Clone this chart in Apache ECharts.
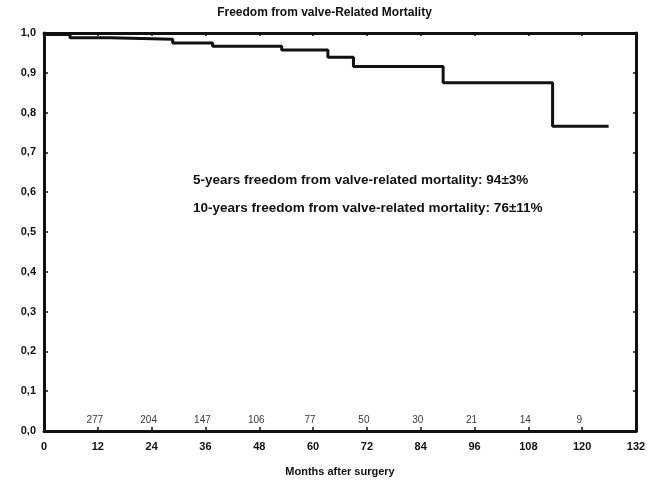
<!DOCTYPE html>
<html><head><meta charset="utf-8">
<script src="https://cdn.jsdelivr.net/npm/echarts@6/dist/echarts.min.js"></script>
<style>html,body{margin:0;padding:0;background:#fff}#c{width:649px;height:482px}</style>
</head><body><div id="c"></div>
<script>
const months   = [0, 5.8, 14.7, 28.7, 37.6, 53, 63.3, 69, 89, 113.4, 125.9];
const survival = [0.996, 0.988, 0.984, 0.975, 0.967, 0.957, 0.939, 0.916, 0.875, 0.766, 0.766];
const riskMonths = [12, 24, 36, 48, 60, 72, 84, 96, 108, 120];
const atRisk     = [277, 204, 147, 106, 77, 50, 30, 21, 14, 9];
const titleText = 'Freedom from valve-Related Mortality';
const note1 = '5-years freedom from valve-related mortality: 94±3%';
const note2 = '10-years freedom from valve-related mortality: 76±11%';

const fmt = v => v.toFixed(1).replace('.', ',');
const chart = echarts.init(document.getElementById('c'));
const F = 'Liberation Sans, Arial, sans-serif';
chart.setOption({
  animation: false,
  title: { text: titleText, left: 'center', top: 2,
    textStyle: { fontFamily: F, fontSize: 12, fontWeight: 'bold', color: '#111' } },
  grid: { left: 44, right: 13, top: 33, bottom: 50 },
  xAxis: [{
    type: 'value', min: 0, max: 132, interval: 12,
    name: 'Months after surgery', nameLocation: 'middle', nameGap: 35,
    nameTextStyle: { fontFamily: F, fontSize: 11, fontWeight: 'bold', color: '#111' },
    axisLine: { onZero: false, lineStyle: { color: '#111', width: 3 } },
    axisTick: { inside: true, length: 4, lineStyle: { color: '#111', width: 1.5 } },
    axisLabel: { fontFamily: F, fontSize: 11, fontWeight: 'bold', color: '#111', margin: 10 },
    splitLine: { show: false }
  }, {
    type: 'value', min: 0, max: 132, interval: 12, position: 'top',
    axisLine: { onZero: false, lineStyle: { color: '#111', width: 3 } },
    axisTick: { inside: true, length: 3, lineStyle: { color: '#111', width: 1.5 } },
    axisLabel: { show: false }, splitLine: { show: false }
  }],
  yAxis: [{
    type: 'value', min: 0, max: 1, interval: 0.1,
    axisLine: { show: true, onZero: false, lineStyle: { color: '#111', width: 3 } },
    axisTick: { show: true, inside: true, length: 4, lineStyle: { color: '#111', width: 1.5 } },
    axisLabel: { fontFamily: F, fontSize: 11, fontWeight: 'bold', color: '#111', margin: 8, formatter: fmt },
    splitLine: { show: false }
  }, {
    type: 'value', min: 0, max: 1, interval: 0.1, position: 'right',
    axisLine: { show: true, onZero: false, lineStyle: { color: '#111', width: 3 } },
    axisTick: { show: true, inside: true, length: 3, lineStyle: { color: '#111', width: 1.5 } },
    axisLabel: { show: false }, splitLine: { show: false }
  }],
  series: [{
    type: 'line', step: 'end', symbol: 'none',
    data: months.map((m, i) => [m, survival[i]]),
    lineStyle: { color: '#111', width: 3 }
  }, {
    type: 'scatter', symbolSize: 0,
    data: riskMonths.map((m, i) => [m, 0.028, atRisk[i]]),
    label: { show: true, position: 'inside', offset: [-3, 0],
      formatter: p => p.data[2],
      fontFamily: F, fontSize: 10, color: '#000' }
  }],
  graphic: [
    { type: 'text', left: 193, top: 173,
      style: { text: note1, font: 'bold 13.5px ' + F, fill: '#111' } },
    { type: 'text', left: 193, top: 201,
      style: { text: note2, font: 'bold 13.5px ' + F, fill: '#111' } }
  ]
});
</script></body></html>
